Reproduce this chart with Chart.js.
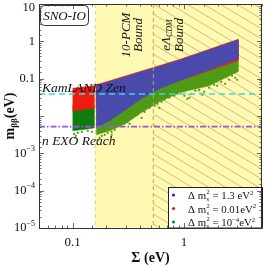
<!DOCTYPE html>
<html>
<head>
<meta charset="utf-8">
<script src="https://cdn.jsdelivr.net/npm/chart.js@4.4.1/dist/chart.umd.min.js"></script>
<style>
  html, body { margin: 0; padding: 0; background: #fff; }
  #wrap { width: 266px; height: 267px; }
</style>
</head>
<body>
<div id="wrap"><canvas id="chart"></canvas></div>
<script>
// axis ranges and bounds
const xRange = [0.05, 5];
const yRange = [1e-5, 10];
const pcmBound = 0.16;      // 10-PCM bound on Sigma
const lcdmBound = 0.53;     // eLCDM bound on Sigma
const kamlandZen = 0.039;   // m_bb limit
const nexoReach = 0.0052;   // m_bb reach

// regions (Sigma, m_bb)
const blueBand = [[0.163,0.0646],[0.908,0.312],[3.05,1.088],[3.05,0.343],[1.68,0.173],[0.908,0.0879],
  [0.601,0.0536],[0.399,0.0272],[0.299,0.01466],[0.215,0.00743],[0.163,0.00497]];
const redBand = [[0.161,0.0675],[0.908,0.325],[3.05,1.13],[3.05,0.303],[0.908,0.0879],[0.161,0.0166]];
const redLow = [[0.1,0.0555],[0.156,0.0646],[0.156,0.01658],[0.1,0.01336]];
const greenLow = [[0.1,0.02],[0.156,0.02],[0.156,0.0048],[0.13,0.0044],[0.1,0.0040]];
const greenBand = [[0.163,0.06],[3.05,1.0],[3.05,0.1535],[1.68,0.0646],[0.908,0.0419],[0.601,0.024],
  [0.399,0.01144],[0.299,0.00617],[0.215,0.004],[0.163,0.00313]];
const greenDots = [[0.103,0.00332],[0.107,0.00294],[0.1115,0.00354],[0.121,0.00376],[0.137,0.004],
  [0.149,0.00376],[0.105,0.0026],[0.175,0.0026],[0.183,0.00294],[0.194,0.00313],[0.2065,0.00354],
  [0.224,0.00376],[0.2385,0.00426],[0.264,0.00545],[0.3115,0.00698],[0.345,0.00894],[0.383,0.01076],
  [0.442,0.01295],[0.49,0.01658],[0.543,0.01876],[0.5775,0.0212],[0.627,0.024],[0.667,0.0272],
  [0.739,0.0308],[0.819,0.0348],[1.006,0.0348],[1.115,0.0308],[1.162,0.0394],[1.369,0.0504],
  [1.517,0.0446],[1.68,0.0571],[1.864,0.0687],[2.152,0.0827],[2.336,0.0731],[2.537,0.0935],
  [2.699,0.1198],[2.871,0.1059],[0.190,0.004],[0.2537,0.00617],[0.287,0.0084],[0.367,0.01217],
  [0.470,0.01876],[0.709,0.0327],[0.871,0.0394],[1.26,0.0474],[1.98,0.0646],[2.99,0.0935],
  [1.455,0.037],[1.07,0.0289],[0.601,0.01658],[0.416,0.00894],[0.3247,0.00617],[0.2243,0.00313],
  [0.168,0.0023]];

const xTickLabels = { 0.1: '0.1', 1: '1' };
const yTickLabels = { 10: ['10', ''], 1: ['1', ''], 0.1: ['0.1', ''], 0.001: ['10', '\u22123'], 0.0001: ['10', '\u22124'], 0.00001: ['10', '\u22125'] };
const legendItems = [
  { color: '#2424d8', value: [[' = 1.3 eV', 0], ['2', 1]] },
  { color: '#e81818', value: [[' = 0.01eV', 0], ['2', 1]] },
  { color: '#0c8a0c', value: [[' = 10', 0], ['\u22124', 1], ['eV', 0], ['2', 1]] }
];

const pts = arr => arr.map(p => ({ x: p[0], y: p[1] }));
const SERIF = '"Liberation Serif", "DejaVu Serif", serif';

function shape(data, color, order) {
  return { data: pts(data), showLine: true, fill: 'shape', backgroundColor: color, borderColor: color,
    borderWidth: 0.5, pointRadius: 0, tension: 0, order };
}
function hline(v, color, dash, order) {
  return { data: pts([[xRange[0], v], [xRange[1], v]]), showLine: true, fill: false, borderColor: color,
    borderWidth: 1.6, borderDash: dash, pointRadius: 0, order };
}

const background = {
  id: 'background',
  beforeDatasetsDraw(chart) {
    const { ctx, chartArea: a, scales: { x } } = chart;
    const x1 = x.getPixelForValue(pcmBound), x2 = x.getPixelForValue(lcdmBound);
    ctx.save();
    ctx.fillStyle = '#fff9b4';
    ctx.fillRect(x1, a.top, a.right - x1, a.bottom - a.top);
    ctx.beginPath();
    ctx.rect(x2, a.top, a.right - x2, a.bottom - a.top);
    ctx.clip();
    ctx.strokeStyle = '#cdae5a';
    ctx.lineWidth = 0.8;
    ctx.beginPath();
    for (let k = -120; k < 240; k += 10) {
      ctx.moveTo(x2, a.top + k);
      ctx.lineTo(a.right, a.top + k + 0.6 * (a.right - x2));
    }
    ctx.stroke();
    ctx.restore();
  }
};

function richText(ctx, x, y, parts, size) {
  // parts: [text, kind] kind 0 normal, 1 superscript
  for (const [t, kind] of parts) {
    if (kind === 1) {
      ctx.font = `${size * 0.62}px ${SERIF}`;
      ctx.fillText(t, x, y - size * 0.38);
    } else {
      ctx.font = `${size}px ${SERIF}`;
      ctx.fillText(t, x, y);
    }
    x += ctx.measureText(t).width;
  }
  return x;
}

const annotations = {
  id: 'annotations',
  afterDatasetsDraw(chart) {
    const { ctx, chartArea: a, scales: { x } } = chart;
    ctx.save();
    // vertical bound lines
    ctx.setLineDash([4, 3]);
    ctx.lineWidth = 1;
    ctx.strokeStyle = '#f0d070';
    let px = x.getPixelForValue(pcmBound);
    ctx.beginPath(); ctx.moveTo(px, a.top); ctx.lineTo(px, a.bottom); ctx.stroke();
    ctx.strokeStyle = '#c9a040';
    px = x.getPixelForValue(lcdmBound);
    ctx.beginPath(); ctx.moveTo(px, a.top); ctx.lineTo(px, a.bottom); ctx.stroke();
    ctx.setLineDash([]);

    ctx.fillStyle = '#111';
    ctx.textBaseline = 'alphabetic';
    ctx.font = `italic 13.5px ${SERIF}`;
    ctx.fillText('KamLAND Zen', 42, 92);
    ctx.fillText('n EXO Reach', 42, 145);

    // SNO-IO box
    ctx.fillStyle = '#fff';
    ctx.strokeStyle = '#333';
    ctx.lineWidth = 1;
    ctx.beginPath(); ctx.roundRect(40.5, 5.5, 48, 20, 4); ctx.fill(); ctx.stroke();
    ctx.fillStyle = '#111';
    ctx.font = `italic 13px ${SERIF}`;
    ctx.textAlign = 'center';
    ctx.fillText('SNO-IO', 64.5, 20);

    // rotated bound labels
    ctx.save();
    ctx.translate(0, 35);
    ctx.rotate(-Math.PI / 2);
    ctx.textBaseline = 'middle';
    ctx.font = `italic 13px ${SERIF}`;
    ctx.fillText('10-PCM', 0, 127);
    ctx.fillText('Bound', 0, 139);
    ctx.fillText('Bound', 0, 180);
    // e Lambda_CDM
    ctx.textAlign = 'left';
    const w1 = ctx.measureText('e\u039B').width;
    ctx.font = `italic 8px ${SERIF}`;
    const w2 = ctx.measureText('CDM').width;
    const s = -(w1 + w2) / 2;
    ctx.font = `italic 13px ${SERIF}`;
    ctx.fillText('e\u039B', s, 167);
    ctx.font = `italic 8px ${SERIF}`;
    ctx.fillText('CDM', s + w1, 170);
    ctx.restore();

    // legend
    const lx = 168.5, ly = 187.5, lw = 94, lh = 40.5;
    ctx.fillStyle = '#fff';
    ctx.fillRect(lx, ly, lw, lh);
    ctx.strokeStyle = '#222';
    ctx.strokeRect(lx, ly, lw, lh);
    ctx.textAlign = 'left';
    ctx.textBaseline = 'alphabetic';
    legendItems.forEach((it, i) => {
      const cy = 195 + i * 13.5;
      ctx.fillStyle = it.color;
      ctx.beginPath(); ctx.arc(173.5, cy, 1.6, 0, Math.PI * 2); ctx.fill();
      ctx.fillStyle = '#111';
      const size = 10.8;
      const base = cy + 4;
      ctx.font = `${size}px ${SERIF}`;
      let tx = 188;
      ctx.fillText('\u0394 m', tx, base);
      tx += ctx.measureText('\u0394 m').width + 0.5;
      ctx.font = `${size * 0.6}px ${SERIF}`;
      ctx.fillText('2', tx, base - 5);
      ctx.fillText('s', tx, base + 2);
      tx += ctx.measureText('2').width;
      richText(ctx, tx, base, it.value, size);
    });
    ctx.restore();
  },
  afterDraw(chart) {
    const { ctx, chartArea: a, scales: { x, y } } = chart;
    ctx.save();
    ctx.strokeStyle = '#444';
    ctx.lineWidth = 0.8;
    ctx.beginPath();
    const isMajor = v => Math.abs(Math.log10(v) - Math.round(Math.log10(v))) < 1e-6;
    for (const t of x.ticks) {
      const p = Math.round(x.getPixelForValue(t.value)) + 0.5;
      const L = isMajor(t.value) ? 5 : 2.5;
      ctx.moveTo(p, a.bottom); ctx.lineTo(p, a.bottom - L);
      ctx.moveTo(p, a.top); ctx.lineTo(p, a.top + L);
    }
    for (const t of y.ticks) {
      const p = Math.round(y.getPixelForValue(t.value)) + 0.5;
      const L = isMajor(t.value) ? 5 : 2.5;
      ctx.moveTo(a.left, p); ctx.lineTo(a.left + L, p);
      ctx.moveTo(a.right, p); ctx.lineTo(a.right - L, p);
    }
    ctx.stroke();
    ctx.strokeStyle = '#333';
    ctx.lineWidth = 1;
    ctx.strokeRect(Math.round(a.left) + 0.5, Math.round(a.top) + 0.5, Math.round(a.right - a.left) - 1, Math.round(a.bottom - a.top));

    // tick labels
    ctx.fillStyle = '#111';
    ctx.textBaseline = 'alphabetic';
    ctx.textAlign = 'center';
    ctx.font = `13px ${SERIF}`;
    for (const t of x.ticks) {
      for (const k in xTickLabels) {
        if (Math.abs(t.value - Number(k)) < 1e-9) ctx.fillText(xTickLabels[k], x.getPixelForValue(t.value), 246);
      }
    }
    ctx.textAlign = 'left';
    ctx.textBaseline = 'middle';
    for (const t of y.ticks) {
      for (const k in yTickLabels) {
        if (Math.abs(t.value / Number(k) - 1) < 1e-6) {
          const [main, sup] = yTickLabels[k];
          let py = Math.max(y.getPixelForValue(t.value), 7.5);
          ctx.font = `12.5px ${SERIF}`;
          const wm = ctx.measureText(main).width;
          ctx.font = `8px ${SERIF}`;
          const ws = sup ? ctx.measureText(sup).width : 0;
          const sx = 35 - wm - ws;
          ctx.font = `12.5px ${SERIF}`;
          ctx.fillText(main, sx, py);
          if (sup) { ctx.font = `8px ${SERIF}`; ctx.fillText(sup, sx + wm, py - 4.5); }
        }
      }
    }

    // axis titles
    ctx.textBaseline = 'alphabetic';
    ctx.textAlign = 'center';
    ctx.font = `bold 14px ${SERIF}`;
    ctx.fillText('\u03A3 (eV)', (a.left + a.right) / 2, 262);

    ctx.save();
    ctx.translate(14, (a.top + a.bottom) / 2);
    ctx.rotate(-Math.PI / 2);
    ctx.textAlign = 'left';
    ctx.font = `bold 14px ${SERIF}`;
    const wm = ctx.measureText('m').width;
    const wr = ctx.measureText('(eV)').width;
    ctx.font = `bold 9px ${SERIF}`;
    const wb = ctx.measureText('\u03B2\u03B2').width;
    let sx = -(wm + wb + wr) / 2;
    ctx.font = `bold 14px ${SERIF}`;
    ctx.fillText('m', sx, 0);
    ctx.font = `bold 9px ${SERIF}`;
    ctx.fillText('\u03B2\u03B2', sx + wm, 3);
    ctx.font = `bold 14px ${SERIF}`;
    ctx.fillText('(eV)', sx + wm + wb, 0);
    ctx.restore();
    ctx.restore();
  }
};

new Chart(document.getElementById('chart'), {
  type: 'scatter',
  data: {
    datasets: [
      hline(kamlandZen, '#30dcee', [6, 4], 0),
      hline(nexoReach, '#9b55d6', [6, 2, 1.5, 2], 0),
      shape(blueBand, '#4a4aad', 1),
      shape(redBand, '#ee2010', 2),
      shape(redLow, '#ee1c10', 2),
      shape(greenBand, '#4e9a16', 3),
      shape(greenLow, '#0e7c0e', 3),
      { data: pts(greenDots), pointRadius: 1.1, pointBackgroundColor: '#48961a', pointBorderWidth: 0, order: 4 }
    ]
  },
  options: {
    responsive: true,
    maintainAspectRatio: false,
    animation: false,
    events: [],
    layout: { padding: { top: 4, right: 3, left: 0, bottom: 0 } },
    plugins: { legend: { display: false }, tooltip: { enabled: false } },
    scales: {
      x: {
        type: 'logarithmic', min: xRange[0], max: xRange[1],
        grid: { display: false }, border: { display: false }, ticks: { display: false },
        afterFit(s) { s.height = 39; }
      },
      y: {
        type: 'logarithmic', min: yRange[0], max: yRange[1],
        grid: { display: false }, border: { display: false }, ticks: { display: false },
        afterFit(s) { s.width = 39; }
      }
    }
  },
  plugins: [background, annotations]
});
</script>
</body>
</html>
